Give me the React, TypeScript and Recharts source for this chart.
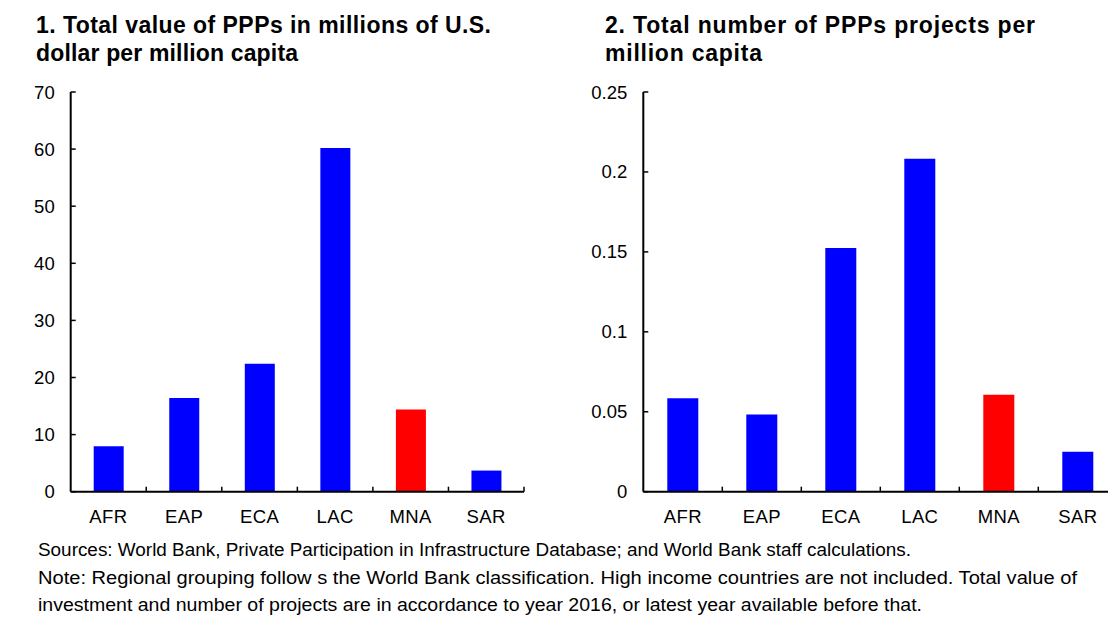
import React from 'react';
import { BarChart, Bar, XAxis, YAxis, Cell } from 'recharts';

const categories = ['AFR', 'EAP', 'ECA', 'LAC', 'MNA', 'SAR'];
const valuePerCapita = [7.95, 16.4, 22.4, 60.2, 14.4, 3.7];
const projectsPerCapita = [0.0584, 0.0483, 0.1524, 0.2083, 0.0607, 0.025];
const valueTicks = [0, 10, 20, 30, 40, 50, 60, 70];
const projectTicks = [0, 0.05, 0.1, 0.15, 0.2, 0.25];
const highlighted = 'MNA';

const title1 = ['1. Total value of PPPs in millions of U.S.', 'dollar per million capita'];
const title2 = ['2. Total number of PPPs projects per', 'million capita'];
const notes = [
  'Sources: World Bank, Private Participation in Infrastructure Database; and World Bank staff calculations.',
  'Note: Regional grouping follow s the World Bank classification. High income countries are not included. Total value of',
  'investment and number of projects are in accordance to year 2016, or latest year available before that.',
];

const FONT = '"Liberation Sans", Arial, sans-serif';
const BLUE = '#0000FF';
const RED = '#FF0000';

const valueData = categories.map((c, i) => ({ cat: c, v: valuePerCapita[i] }));
const projectData = categories.map((c, i) => ({ cat: c, v: projectsPerCapita[i] }));

const CHART_H = 540;
const PLOT_TOP = 92;
const PLOT_BOTTOM = 491.7;
const XAXIS_H = 40;
const Y_MARGIN = 16;

function Panel(props: {
  data: { cat: string; v: number }[];
  ticks: number[];
  domain: [number, number];
  left: number;
  width: number;
  yAxisWidth: number;
  plotWidth: number;
  barSize: number;
}) {
  const { data, ticks, domain, left, width, yAxisWidth, plotWidth, barSize } = props;
  const band = plotWidth / categories.length;
  const marginBottom = CHART_H - PLOT_BOTTOM - XAXIS_H;
  const marginRight = width - yAxisWidth - plotWidth;

  const xTick = (p: any) => {
    const { x, y, payload } = p;
    const axisY = y;
    return (
      <g>
        <line x1={x + band / 2} x2={x + band / 2} y1={axisY} y2={axisY - 5} stroke="#000" strokeWidth={1.5} />
        <text x={x} y={axisY + 24.5} textAnchor="middle" dominantBaseline="central" fontFamily={FONT} fontSize={18.5} letterSpacing={0.4} fill="#000">
          {payload.value}
        </text>
      </g>
    );
  };

  const yTick = (p: any) => {
    const { x, y, payload } = p;
    const axisX = x + Y_MARGIN;
    return (
      <g>
        <line x1={axisX} x2={axisX + 5} y1={y} y2={y} stroke="#000" strokeWidth={1.5} />
        <text x={x} y={y} textAnchor="end" dominantBaseline="central" fontFamily={FONT} fontSize={18.5} fill="#000">
          {payload.value}
        </text>
      </g>
    );
  };

  return (
    <div style={{ position: 'absolute', left, top: 0 }}>
      <BarChart
        width={width}
        height={CHART_H}
        data={data}
        margin={{ top: PLOT_TOP, right: marginRight, bottom: marginBottom, left: 0 }}
      >
        <XAxis
          dataKey="cat"
          height={XAXIS_H}
          interval={0}
          tickLine={false}
          tickSize={0}
          tickMargin={0}
          axisLine={{ stroke: '#000', strokeWidth: 2 }}
          tick={xTick}
        />
        <YAxis
          type="number"
          width={yAxisWidth}
          domain={domain}
          ticks={ticks}
          interval={0}
          tickLine={false}
          tickSize={0}
          tickMargin={Y_MARGIN}
          axisLine={{ stroke: '#000', strokeWidth: 2 }}
          tick={yTick}
        />
        <Bar dataKey="v" barSize={barSize} isAnimationActive={false}>
          {data.map((d) => (
            <Cell key={d.cat} fill={d.cat === highlighted ? RED : BLUE} />
          ))}
        </Bar>
      </BarChart>
    </div>
  );
}

export default function App() {
  return (
    <div
      style={{
        position: 'absolute',
        left: 0,
        top: 0,
        width: 1108,
        height: 617,
        overflow: 'hidden',
        background: '#fff',
      }}
    >
      <Panel
        data={valueData}
        ticks={valueTicks}
        domain={[0, 70]}
        left={0}
        width={560}
        yAxisWidth={70.7}
        plotWidth={453.3}
        barSize={30}
      />
      <Panel
        data={projectData}
        ticks={projectTicks}
        domain={[0, 0.25]}
        left={560}
        width={600}
        yAxisWidth={83.3}
        plotWidth={474}
        barSize={31}
      />
      <svg
        width={1108}
        height={617}
        style={{ position: 'absolute', left: 0, top: 0, pointerEvents: 'none' }}
      >
        <g fontFamily={FONT} fontWeight="bold" fontSize={23} fill="#000">
          <text x={36} y={33} textLength={455}>{title1[0]}</text>
          <text x={36} y={61} textLength={262}>{title1[1]}</text>
          <text x={605} y={33} textLength={430}>{title2[0]}</text>
          <text x={605} y={61} textLength={157}>{title2[1]}</text>
        </g>
        <g fontFamily={FONT} fontSize={17.5} fill="#000">
          <text x={38} y={556} textLength={873} lengthAdjust="spacingAndGlyphs">{notes[0]}</text>
          <text x={38} y={584} textLength={1039} lengthAdjust="spacingAndGlyphs">{notes[1]}</text>
          <text x={38} y={611} textLength={884} lengthAdjust="spacingAndGlyphs">{notes[2]}</text>
        </g>
      </svg>
    </div>
  );
}
